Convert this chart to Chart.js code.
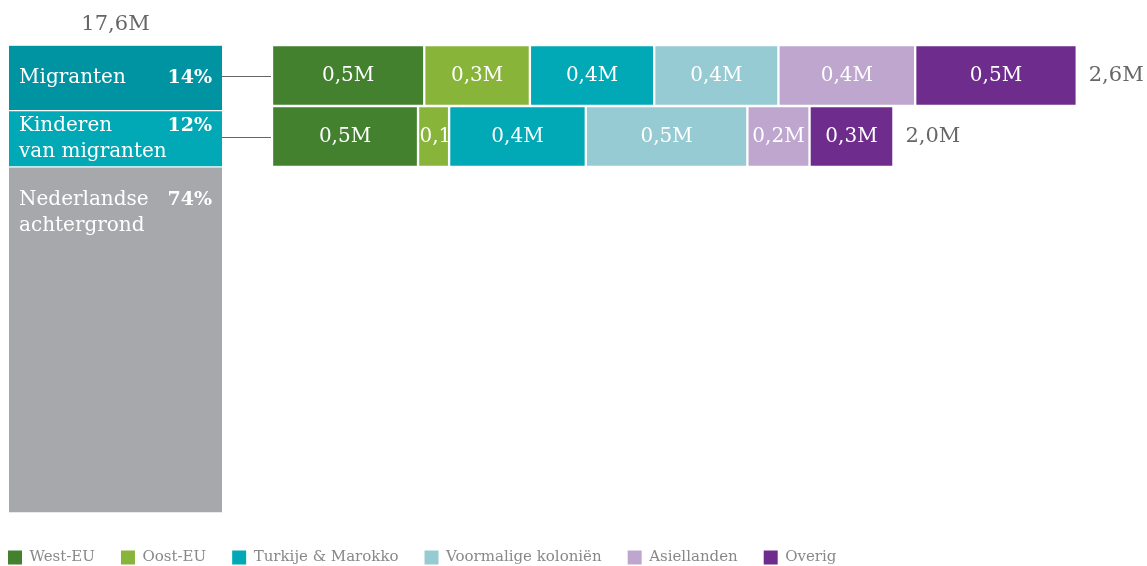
<!DOCTYPE html>
<html lang="nl">
<head>
<meta charset="utf-8">
<title>Herkomst bevolking</title>
<script src="https://cdn.jsdelivr.net/npm/chart.js@4.4.0/dist/chart.umd.min.js"></script>
<style>
  html, body { margin: 0; padding: 0; background: #fff; overflow: hidden; }
  #page { position: relative; width: 1147px; height: 566px; overflow: hidden; }
  .box { position: absolute; }
  #leftBox { left: 0; top: 0; width: 240px; height: 530px; }
  #rightBox { left: 0; top: 0; width: 1147px; height: 180px; }
  #legendBox { left: -18px; top: 524px; width: 1165px; height: 160px; }
</style>
</head>
<body>
<div id="page">
  <div class="box" id="leftBox"><canvas id="groups"></canvas></div>
  <div class="box" id="rightBox"><canvas id="origins"></canvas></div>
  <div class="box" id="legendBox"><canvas id="legend"></canvas></div>
</div>
<script>
"use strict";

const FONT = '"DejaVu Serif", serif';

// left column: whole population
const totalLabel = "17,6M";
const groupNames = [["Migranten"], ["Kinderen", "van migranten"], ["Nederlandse", "achtergrond"]];
const groupShares = [14, 12, 74];
const groupColors = ["#0094a3", "#00a9b5", "#a7a8ac"];

// right rows: split by origin, in millions
const rowNames = ["Migranten", "Kinderen van migranten"];
const originNames = ["West-EU", "Oost-EU", "Turkije & Marokko", "Voormalige koloniën", "Asiellanden", "Overig"];
const originColors = ["#43812f", "#88b43a", "#00a9b5", "#97cbd3", "#bea6cf", "#6e2c8d"];
const migrantValues = [0.49, 0.34, 0.40, 0.40, 0.44, 0.52];
const childValues = [0.47, 0.10, 0.44, 0.52, 0.20, 0.27];

function fmt(v) {
  return v.toFixed(1).replace(".", ",") + "M";
}

const groupLabels = {
  id: "groupLabels",
  afterDatasetsDraw(chart) {
    const ctx = chart.ctx;
    const lineH = 26;
    ctx.save();
    ctx.fillStyle = "#fff";
    ctx.textBaseline = "middle";
    chart.data.datasets.forEach((ds, i) => {
      const bar = chart.getDatasetMeta(i).data[0];
      const top = Math.min(bar.y, bar.base);
      const h = Math.abs(bar.base - bar.y);
      const left = bar.x - bar.width / 2;
      const right = bar.x + bar.width / 2;
      const lines = groupNames[i];
      const offset = Math.min((h - lines.length * lineH) / 2, 20);
      ctx.font = "20px " + FONT;
      ctx.textAlign = "left";
      lines.forEach((line, j) => {
        ctx.fillText(line, left + 10, top + offset + lineH * (j + 0.5));
      });
      ctx.font = "bold 19px " + FONT;
      ctx.textAlign = "right";
      ctx.fillText(groupShares[i] + "%", right - 10, top + offset + lineH / 2);
    });
    ctx.restore();
  }
};

const originLabels = {
  id: "originLabels",
  afterDatasetsDraw(chart) {
    const ctx = chart.ctx;
    ctx.save();
    ctx.textBaseline = "middle";
    ctx.font = "20px " + FONT;
    chart.data.datasets.forEach((ds, i) => {
      chart.getDatasetMeta(i).data.forEach((bar, j) => {
        const left = Math.min(bar.x, bar.base);
        const right = Math.max(bar.x, bar.base);
        const top = bar.y - bar.height / 2;
        const text = fmt(ds.data[j]);
        const w = ctx.measureText(text).width;
        ctx.save();
        ctx.beginPath();
        ctx.rect(left + 1.5, top, right - left - 3, bar.height);
        ctx.clip();
        ctx.fillStyle = "#fff";
        if (w < right - left - 4) {
          ctx.textAlign = "center";
          ctx.fillText(text, (left + right) / 2, bar.y);
        } else {
          ctx.textAlign = "left";
          ctx.fillText(text, left + 1.5, bar.y);
        }
        ctx.restore();
      });
    });

    // totals at the end of each row and the lines back to the left column
    const lastMeta = chart.getDatasetMeta(chart.data.datasets.length - 1);
    rowNames.forEach((name, j) => {
      const sum = chart.data.datasets.reduce((s, ds) => s + ds.data[j], 0);
      const end = lastMeta.data[j];
      ctx.fillStyle = "#666";
      ctx.textAlign = "left";
      ctx.font = "21px " + FONT;
      ctx.fillText(fmt(sum), end.x + 12, end.y);

      ctx.strokeStyle = "#666";
      ctx.lineWidth = 1;
      ctx.beginPath();
      ctx.moveTo(222, Math.round(end.y) + 0.5);
      ctx.lineTo(chart.chartArea.left - 1, Math.round(end.y) + 0.5);
      ctx.stroke();
    });
    ctx.restore();
  }
};

new Chart(document.getElementById("groups"), {
  type: "bar",
  data: {
    labels: [totalLabel],
    datasets: groupNames.map((name, i) => ({
      label: name.join(" "),
      data: [groupShares[i]],
      backgroundColor: groupColors[i],
      borderColor: "#fff",
      borderWidth: { top: 1, bottom: 1, left: 0, right: 0 },
      borderSkipped: false,
      categoryPercentage: 1,
      barPercentage: 1
    }))
  },
  options: {
    responsive: true,
    maintainAspectRatio: false,
    animation: false,
    layout: { padding: { left: 9, right: 18, bottom: 17 } },
    scales: {
      x: { stacked: true, display: false },
      y: { stacked: true, display: false, min: 0, max: 100, reverse: true }
    },
    plugins: {
      legend: { display: false },
      tooltip: { enabled: false },
      title: {
        display: true,
        text: totalLabel,
        color: "#666",
        font: { family: FONT, size: 21, weight: "normal" },
        padding: { top: 12, bottom: 8 }
      }
    }
  },
  plugins: [groupLabels]
});

new Chart(document.getElementById("origins"), {
  type: "bar",
  data: {
    labels: rowNames,
    datasets: originNames.map((name, i) => ({
      label: name,
      data: [migrantValues[i], childValues[i]],
      backgroundColor: originColors[i],
      borderColor: "#fff",
      borderWidth: 1.5,
      borderSkipped: false,
      categoryPercentage: 1,
      barPercentage: 1
    }))
  },
  options: {
    indexAxis: "y",
    responsive: true,
    maintainAspectRatio: false,
    animation: false,
    layout: { padding: { left: 272, right: 5, top: 45, bottom: 13 } },
    scales: {
      x: { stacked: true, display: false, min: 0, max: 2.8 },
      y: { stacked: true, display: false }
    },
    plugins: {
      legend: { display: false },
      tooltip: { enabled: false }
    }
  },
  plugins: [originLabels]
});

// legend only
new Chart(document.getElementById("legend"), {
  type: "bar",
  data: {
    labels: [],
    datasets: originNames.map((name, i) => ({
      label: name,
      data: [],
      backgroundColor: originColors[i],
      borderWidth: 0
    }))
  },
  options: {
    responsive: true,
    maintainAspectRatio: false,
    animation: false,
    scales: { x: { display: false }, y: { display: false } },
    plugins: {
      tooltip: { enabled: false },
      legend: {
        position: "top",
        align: "start",
        labels: {
          boxWidth: 14,
          boxHeight: 14,
          padding: 26,
          color: "#888",
          font: { family: FONT, size: 15 }
        }
      }
    }
  }
});
</script>
</body>
</html>
